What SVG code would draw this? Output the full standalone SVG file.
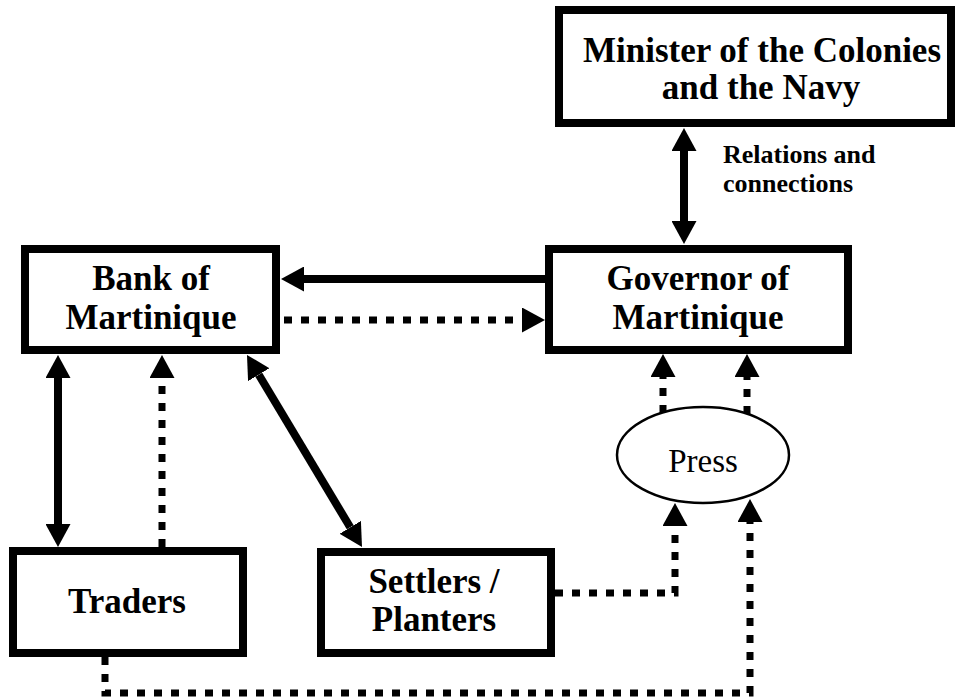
<svg xmlns="http://www.w3.org/2000/svg" width="960" height="700" viewBox="0 0 960 700">
<style>
.box{fill:#fff;stroke:#000;stroke-width:8}
.lbl{font-family:"Liberation Serif","Times New Roman",serif;font-weight:bold;font-size:35px;text-anchor:middle;fill:#000}
.small{font-family:"Liberation Serif","Times New Roman",serif;font-weight:bold;font-size:26px;fill:#000}
.press{font-family:"Liberation Serif","Times New Roman",serif;font-size:33px;text-anchor:middle;fill:#000}
.solid{fill:none;stroke:#000;stroke-width:8}
.dot{fill:none;stroke:#000;stroke-width:7;stroke-dasharray:8 9}
</style>
<defs>
<marker id="ah" viewBox="0 0 23 25" refX="0" refY="12.5" markerWidth="23" markerHeight="25" markerUnits="userSpaceOnUse" orient="auto-start-reverse">
<path d="M0,0 L23,12.5 L0,25 Z" fill="#000"/>
</marker>
</defs>
<rect width="960" height="700" fill="#fff"/>
<g id="connectors">
<line class="solid" x1="684" y1="151" x2="684" y2="221" marker-start="url(#ah)" marker-end="url(#ah)"/>
<line class="solid" x1="545" y1="279" x2="304" y2="279" marker-end="url(#ah)"/>
<line class="dot" x1="284" y1="320" x2="522" y2="320" marker-end="url(#ah)"/>
<line class="solid" x1="58" y1="378" x2="58" y2="524" marker-start="url(#ah)" marker-end="url(#ah)"/>
<line class="dot" x1="162" y1="547" x2="162" y2="378" marker-end="url(#ah)"/>
<line class="solid" x1="258.8" y1="374.7" x2="350.2" y2="527.3" marker-start="url(#ah)" marker-end="url(#ah)"/>
<line class="dot" x1="663" y1="413" x2="663" y2="377" marker-end="url(#ah)"/>
<line class="dot" x1="747" y1="414" x2="747" y2="377" marker-end="url(#ah)"/>
<path class="dot" d="M555,593 H675 V526" marker-end="url(#ah)"/>
<path class="dot" d="M105,657 V693 H750 V522" marker-end="url(#ah)"/>
</g>
<g id="minister">
<rect class="box" x="559" y="10" width="392" height="113"/>
<text class="lbl" x="762" y="62">Minister of the Colonies</text>
<text class="lbl" x="761" y="99">and the Navy</text>
</g>
<g id="relations-label">
<text class="small" x="723" y="163">Relations and</text>
<text class="small" x="723" y="192">connections</text>
</g>
<g id="bank">
<rect class="box" x="25" y="249" width="251" height="101"/>
<text class="lbl" x="151" y="290">Bank of</text>
<text class="lbl" x="151" y="329">Martinique</text>
</g>
<g id="governor">
<rect class="box" x="549" y="249" width="299" height="101"/>
<text class="lbl" x="698" y="290">Governor of</text>
<text class="lbl" x="698" y="329">Martinique</text>
</g>
<g id="press">
<ellipse cx="703" cy="455" rx="86" ry="48" fill="#fff" stroke="#000" stroke-width="2.5"/>
<text class="press" x="703" y="472">Press</text>
</g>
<g id="traders">
<rect class="box" x="13" y="551" width="230" height="102"/>
<text class="lbl" x="127" y="613">Traders</text>
</g>
<g id="settlers">
<rect class="box" x="321" y="552" width="230" height="101"/>
<text class="lbl" x="434" y="593">Settlers /</text>
<text class="lbl" x="434" y="631">Planters</text>
</g>
</svg>
